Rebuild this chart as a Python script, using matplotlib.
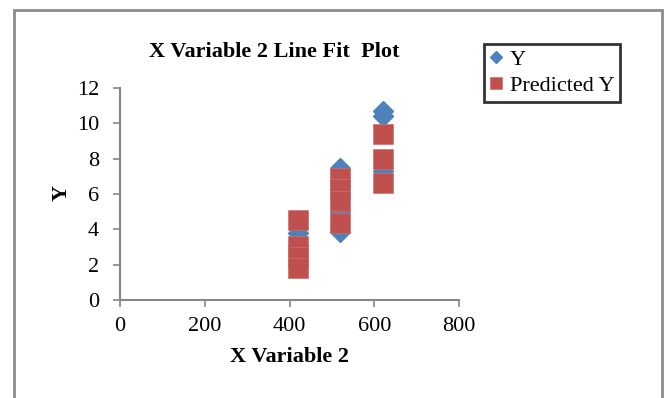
import matplotlib
matplotlib.use("Agg")
import matplotlib.pyplot as plt
from matplotlib.patches import Rectangle

plt.rcParams["font.family"] = ["Liberation Serif", "DejaVu Serif"]

x_var2 = [420, 420, 420, 420, 520, 520, 520, 520, 620, 620, 620]
y_obs = [3.8, 3.06, 2.44, 2.0, 7.5, 4.97, 3.85, 6.3, 10.7, 10.4, 7.31]
y_pred = [4.55, 3.06, 2.44, 1.83, 6.93, 6.3, 5.6, 4.34, 9.42, 7.96, 6.6]

x_ticks = [0, 200, 400, 600, 800]
y_ticks = [0, 2, 4, 6, 8, 10, 12]

BLUE = "#4F81BD"
RED = "#C0504D"
GRID = "#868686"

fig = plt.figure(figsize=(6.7, 3.98), dpi=100)
fig.patches.append(Rectangle((14 / 670, -0.05), (662 - 14) / 670, 1.05 - 10 / 398,
                             transform=fig.transFigure, fill=False,
                             edgecolor="#8c8c8c", lw=2.0))

ax = fig.add_axes([120 / 670, 1 - 300 / 398, (459 - 120) / 670, (300 - 88) / 398])
ax.plot(x_var2, y_obs, ls="none", marker="D", ms=10, color=BLUE,
        mec=BLUE, label="Y")
ax.plot(x_var2, y_pred, ls="none", marker="s", ms=15, color=RED,
        mec="#cc706d", mew=0.5, label="Predicted Y")

ax.set_xlim(0, 800)
ax.set_ylim(0, 12)
ax.set_xticks(x_ticks)
ax.set_yticks(y_ticks)
ax.tick_params(labelsize=16, color=GRID, length=5, width=1.2)
ax.tick_params(axis="x", pad=7)
ax.tick_params(axis="y", pad=10)
for s in ["top", "right"]:
    ax.spines[s].set_visible(False)
for s in ["left", "bottom"]:
    ax.spines[s].set_color(GRID)
    ax.spines[s].set_linewidth(1.5)

# title / y label placed like the reference, not centred on the axes
fig.text(274 / 670, 1 - 52 / 398, "X Variable 2 Line Fit  Plot", fontsize=16,
         fontweight="bold", ha="center", va="center")
ax.set_xlabel("X Variable 2", fontsize=16, fontweight="bold", labelpad=8)
fig.text(62 / 670, 1 - 193 / 398, "Y", fontsize=16, fontweight="bold",
         rotation=90, ha="center", va="center")

leg = fig.legend(loc="upper left", bbox_to_anchor=(484 / 670, 1 - 44 / 398),
                 fontsize=16, frameon=True, fancybox=False, markerscale=0.6,
                 handlelength=0.6, handletextpad=0.3, borderpad=0.25,
                 labelspacing=0.25, borderaxespad=0)
leg.get_frame().set_edgecolor("black")
leg.get_frame().set_linewidth(2)

fig.savefig("out.png", dpi=100)
